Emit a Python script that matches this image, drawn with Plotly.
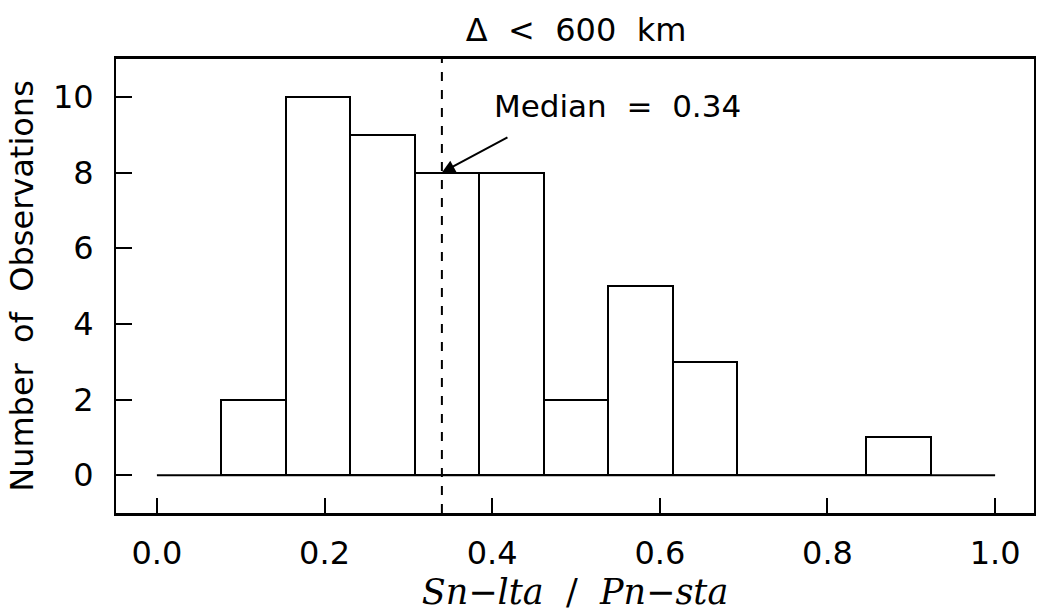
import plotly.graph_objects as go

# ---- data ----
bin_width = 1 / 13
bin_starts = [1/13, 2/13, 3/13, 4/13, 5/13, 6/13, 7/13, 8/13, 9/13, 10/13, 11/13]
counts = [2, 10, 9, 8, 8, 2, 5, 3, 0, 0, 1]
median = 0.34
x_ticks = [0.0, 0.2, 0.4, 0.6, 0.8, 1.0]
x_tick_labels = ["0.0", "0.2", "0.4", "0.6", "0.8", "1.0"]
y_ticks = [0, 2, 4, 6, 8, 10]
y_tick_labels = ["0", "2", "4", "6", "8", "10"]
baseline_x = [0.0, 1.0]
baseline_y = [0, 0]

FONT = "DejaVu Sans"

fig = go.Figure()

# baseline
fig.add_trace(go.Scatter(x=baseline_x, y=baseline_y, mode="lines",
                         line=dict(color="black", width=2), showlegend=False,
                         hoverinfo="skip"))

# histogram bars
fig.add_trace(go.Bar(x=bin_starts, y=counts, width=[bin_width] * len(counts),
                     offset=0,
                     marker=dict(color="white", line=dict(color="black", width=2)),
                     showlegend=False))

# median dashed line
fig.add_shape(type="line", x0=median, x1=median, y0=0, y1=1, xref="x", yref="y domain",
              line=dict(color="black", width=2, dash="dash"))

# arrow
fig.add_annotation(x=median, y=8, ax=0.42, ay=8.95, xref="x", yref="y",
                   axref="x", ayref="y", showarrow=True, arrowhead=2,
                   arrowsize=1.3, arrowwidth=2, arrowcolor="black", text="")
fig.add_annotation(x=0.400, y=9.75, xref="x", yref="y", xanchor="left", yanchor="middle",
                   text="Median  =  0.34", showarrow=False,
                   font=dict(family=FONT, size=31, color="black"))

fig.update_layout(
    width=1038, height=616,
    margin=dict(l=116, r=2, t=59, b=103),
    paper_bgcolor="white", plot_bgcolor="white",
    bargap=0,
    title=dict(text="Δ  <  600  km", x=0.555, xanchor="center", y=0.951, yanchor="middle",
               yref="container", font=dict(family=FONT, size=32, color="black")),
    font=dict(family=FONT, color="black"),
)

fig.update_xaxes(range=[-0.0488, 1.0464], tickvals=x_ticks, ticktext=x_tick_labels,
                 ticks="inside", ticklen=15, tickwidth=2, tickcolor="black",
                 showline=True, linewidth=3, linecolor="black", mirror=True,
                 showgrid=False, zeroline=False,
                 tickfont=dict(family=FONT, size=32, color="black"),
                 ticklabelstandoff=10,
                 title=dict(text="<i>Sn</i>−<i>lta</i>  /  <i>Pn</i>−<i>sta</i>",
                            font=dict(family="DejaVu Serif", size=35, color="black"),
                            standoff=6))
fig.update_yaxes(range=[-1, 11], tickvals=y_ticks, ticktext=y_tick_labels,
                 ticks="inside", ticklen=16, tickwidth=2, tickcolor="black",
                 showline=True, linewidth=2, linecolor="black", mirror=True,
                 showgrid=False, zeroline=False,
                 tickfont=dict(family=FONT, size=32, color="black"),
                 ticklabelstandoff=14,
                 title=dict(text="Number  of  Observations",
                            font=dict(family=FONT, size=32, color="black"),
                            standoff=10))

fig.write_html("out.html")
